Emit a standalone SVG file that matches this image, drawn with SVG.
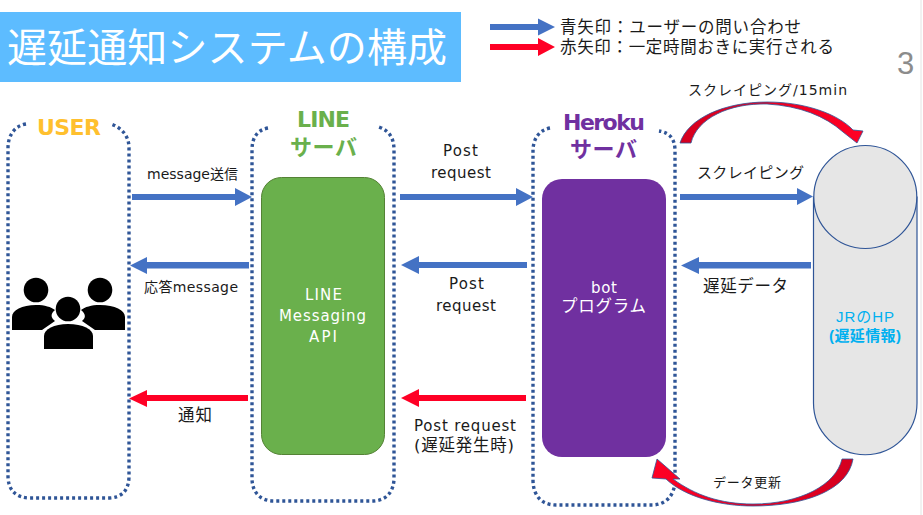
<svg xmlns="http://www.w3.org/2000/svg" width="923" height="515" viewBox="0 0 923 515">
<defs>
<linearGradient id="curveTop" x1="0" y1="0" x2="1" y2="0"><stop offset="0" stop-color="#d4001f"/><stop offset=".6" stop-color="#f00022"/><stop offset="1" stop-color="#ff0025"/></linearGradient>
<linearGradient id="curveBottom" x1="1" y1="0" x2="0" y2="0"><stop offset="0" stop-color="#d4001f"/><stop offset=".6" stop-color="#f00022"/><stop offset="1" stop-color="#ff0025"/></linearGradient>
</defs>
<style>
text{font-family:"DejaVu Sans","Noto Sans CJK JP",sans-serif;fill:#1a1a1a}
.s13{font-size:13px}
.lb{font-size:14px}
.s15{font-size:15px}
.s16{font-size:16.500px}
.dot{fill:none;stroke:#2f5597;stroke-width:3.4;stroke-dasharray:3 3}
.blue{fill:#4472c4}
.red{fill:#ff0025}
.head{font-size:22px;font-weight:700}
.cur{stroke:#2f5597;stroke-width:.8}
.w{fill:#fff}
</style>
<rect width="923" height="515" fill="#fff"/>
<line x1="921" y1="0" x2="921" y2="515" stroke="#e4e4e4" stroke-width="1"/>
<g id="title">
<rect x="0" y="12" width="461" height="70" fill="#5dbcff"/>
<text x="7" y="62" style="font-family:'Noto Sans CJK JP',serif;fill:#fff" font-size="40" textLength="440">遅延通知システムの構成</text>
</g>
<text x="897" y="74" font-size="31" style="fill:#8c8c8c;font-family:'Liberation Sans',sans-serif">3</text>
<g id="legend">
<path class="blue" d="M490 24H538V18.500L555 27L538 35.500V30H490Z"/>
<path class="red" d="M490 44H538V38L555 47L538 56V50H490Z"/>
<text x="560" y="33" class="s16" textLength="241">青矢印：ユーザーの問い合わせ</text>
<text x="560" y="53" class="s16" textLength="274">赤矢印：一定時間おきに実行される</text>
</g>
<g id="user">
<path class="dot" d="M26 124C14 126 8 136 8 148V476C8 490 16 498 30 498H108C122 498 129 490 129 476V148C129 136 122 128 111 124"/>
<text x="37" y="135" class="head" style="fill:#ffc02e" textLength="64">USER</text>
<g id="people">
<circle cx="36" cy="290" r="12.300"/><circle cx="100" cy="290" r="12.300"/>
<path d="M12 330V317C12 310 22 305 36 305C45 305 51 307 55 310C50 314 51 318 55 321L42 330Z"/>
<path d="M125 330V317C125 310 115 305 100 305C91 305 85 307 81 310C86 314 86 318 82 321L95 330Z"/>
<circle cx="68" cy="309" r="12.300"/>
<path d="M44 349V336C44 329 54 324 68 324C83 324 93 329 93 336V349Z"/>
</g>
</g>
<g id="line">
<path class="dot" d="M268 128C257 130 252 138 252 150V478C252 492 260 501 274 501H372C386 501 394 492 394 478V150C394 139 390 131 379 127"/>
<text x="297" y="127" class="head" style="fill:#6ab04c" textLength="53">LINE</text>
<text x="290" y="155" class="head" style="fill:#6ab04c" textLength="67">サーバ</text>
<rect x="261.500" y="177.500" width="123" height="277" rx="20" fill="#6ab04c" stroke="#548235"/>
<text x="305" y="300" class="s15 w" textLength="37">LINE</text>
<text x="279" y="321" class="s15 w" textLength="87">Messaging</text>
<text x="309" y="342" class="s15 w" textLength="28">API</text>
</g>
<g id="heroku">
<path class="dot" d="M550 128C539 130 533 139 533 151V480C533 495 541 505 556 505H652C666 505 675 495 675 480V151C675 140 671 133 659 131"/>
<text x="563" y="130" class="head" style="fill:#7030a0" textLength="82">Heroku</text>
<text x="570" y="157" class="head" style="fill:#7030a0" textLength="67">サーバ</text>
<rect x="542" y="179" width="124" height="278" rx="20" fill="#7030a0"/>
<text x="591" y="293" class="s15 w" textLength="26">bot</text>
<text x="561" y="312" class="s16 w" textLength="85">プログラム</text>
</g>
<g id="jr">
<path d="M813.500 197V403A51.500 51.500 0 0 0 917 403V197Z" fill="#e6e6e6" stroke="#2f5597" stroke-width="1.200"/>
<circle cx="865.300" cy="197" r="51.500" fill="#e6e6e6" stroke="#2f5597" stroke-width="1.200"/>
<text x="836" y="322" font-size="15" style="fill:#00b0f0;font-family:'Liberation Sans','Noto Sans CJK JP',sans-serif" textLength="58">JRのHP</text>
<text x="829" y="341" font-size="15" font-weight="700" style="fill:#00b0f0;font-family:'Liberation Sans','Noto Sans CJK JP',sans-serif" textLength="72">(遅延情報)</text>
</g>
<g id="connectors">
<path class="blue" d="M132 194H235V188L252 197L235 206V200H132Z"/>
<path class="blue" d="M249 262H147V257L130 265.500L147 274V268.500H249Z"/>
<path class="red" d="M248 395H147V390L129 398.500L147 407V401H248Z"/>
<path class="blue" d="M400 194H516V188L533 197L516 206V200H400Z"/>
<path class="blue" d="M527 262H419V256L401 265L419 274V268H527Z"/>
<path class="red" d="M526 395H419V389L401 398L419 407V401H526Z"/>
<path class="blue" d="M680 194H797V188L813 196.500L797 205V200H680Z"/>
<path class="blue" d="M811 262H699V257L681 265.500L699 274V268.500H811Z"/>
<path class="cur" fill="url(#curveTop)" d="M680 143C688 118 725 102 767 102C805 102 838 114 853 130L863 131L857 143L843 132C825 116 800 106 767 104C730 103 697 118 691 143Z"/>
<path class="cur" fill="url(#curveBottom)" d="M853 459C848 490 805 506 753 506C720 506 685 497 666 479L652 478L657 459L680 479L673 479C695 495 720 504 753 504C800 504 836 485 842 459Z"/>
</g>
<g id="labels">
<text x="147" y="179" class="lb" textLength="91">message送信</text>
<text x="144" y="292" class="lb" textLength="94">応答message</text>
<text x="178" y="421" class="s16" textLength="34">通知</text>
<text x="443" y="156" class="s15" textLength="35">Post</text>
<text x="431" y="178" class="s15" textLength="60">request</text>
<text x="449" y="289" class="s15" textLength="35">Post</text>
<text x="436" y="311" class="s15" textLength="60">request</text>
<text x="414" y="431" class="s15" textLength="102">Post request</text>
<text x="414" y="451" class="s16" textLength="100">(遅延発生時)</text>
<text x="688" y="95" class="lb" textLength="159">スクレイピング/15min</text>
<text x="697" y="178" class="s15" textLength="107">スクレイピング</text>
<text x="703" y="292" class="s16" textLength="85">遅延データ</text>
<text x="713" y="487" class="s13" textLength="68">データ更新</text>
</g>
</svg>
